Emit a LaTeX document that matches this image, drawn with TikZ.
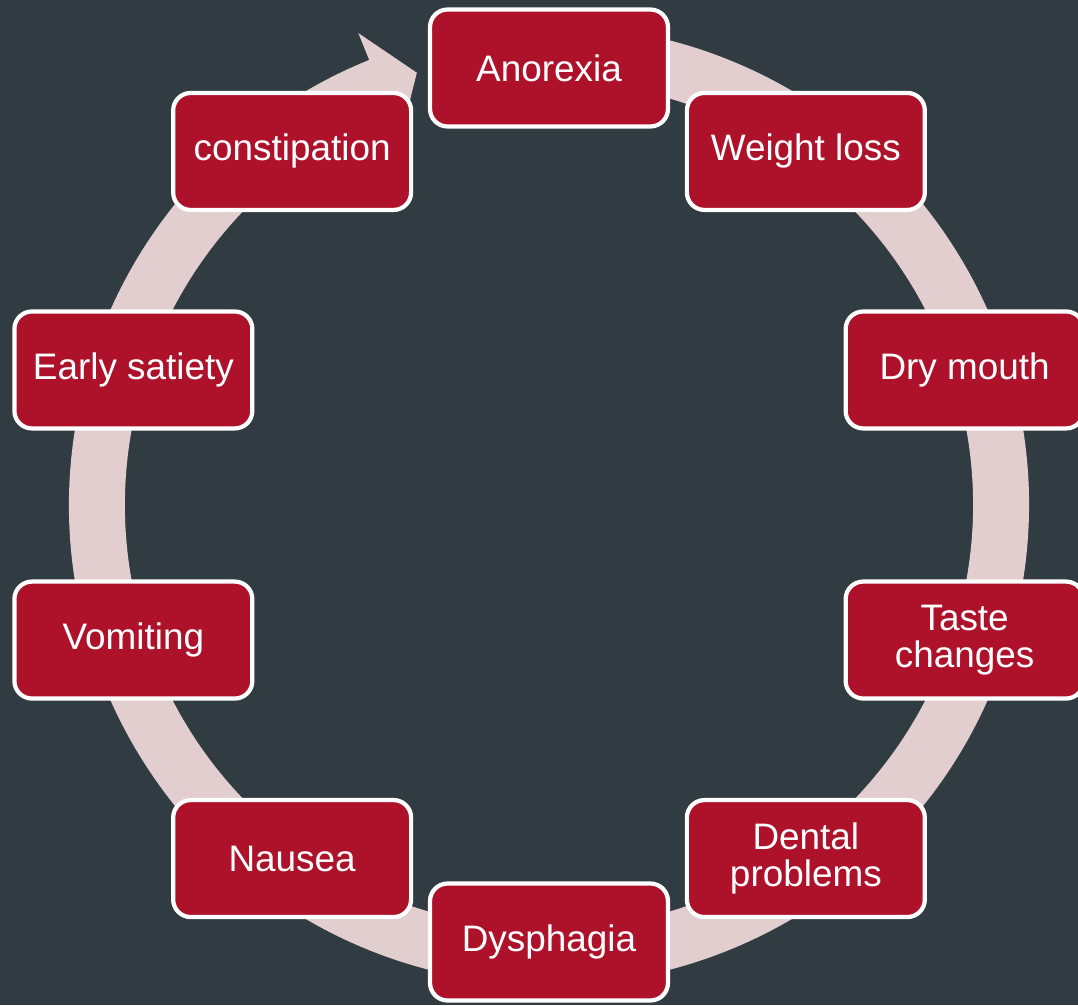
\documentclass[tikz,border=0pt]{standalone}
\usepackage{fontspec}
\setmainfont{Liberation Sans}
\usepackage{xcolor}
\usepackage{tikz}
\usetikzlibrary{positioning}
\definecolor{slate}{RGB}{49,59,66}
\definecolor{boxred}{RGB}{174,17,42}
\definecolor{ringpink}{RGB}{226,205,207}

\begin{document}
\begin{tikzpicture}[x=0.02cm,y=0.02cm,
  sym/.style={draw=white,line width=2.4pt,rounded corners=10pt,fill=boxred,text=white,
    minimum width=4.76cm,minimum height=2.34cm,inner sep=2pt,align=center,
    font=\fontsize{21}{21}\selectfont},
  ring/.style={fill=ringpink}]
\fill[slate] (-549,-500) rectangle (529,505);
\useasboundingbox (-549,-500) rectangle (529,505);
\clip (-549,-500) rectangle (529,505);
\fill[ring] (80:480) arc[start angle=80,end angle=-248,radius=480]
  -- (112:509) -- (107:452) -- (112:396) -- (112:424)
  arc[start angle=-248,end angle=80,radius=424] -- cycle;
\node[sym] (anx) at (90:437) {Anorexia};
\node[sym] (wloss) at (54:437) {Weight loss};
\node[sym] (dry) at (18:437) {Dry mouth};
\node[sym] (taste) at (-18:437) {Taste\\changes};
\node[sym] (dent) at (-54:437) {Dental\\problems};
\node[sym] (dys) at (-90:437) {Dysphagia};
\node[sym] (naus) at (-126:437) {Nausea};
\node[sym] (vom) at (-162:437) {Vomiting};
\node[sym] (sat) at (162:437) {Early satiety};
\node[sym] (const) at (126:437) {constipation};
\end{tikzpicture}
\end{document}
